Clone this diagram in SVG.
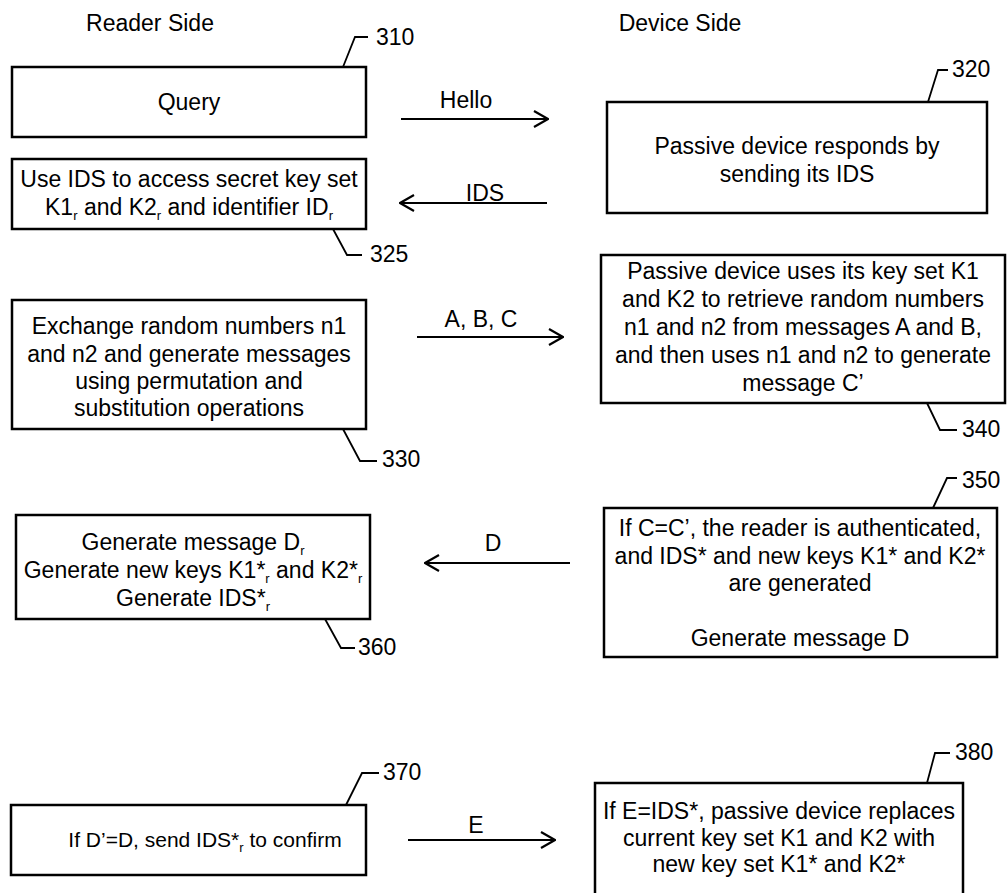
<svg xmlns="http://www.w3.org/2000/svg" width="1008" height="893" viewBox="0 0 1008 893">
<style>
text{font-family:"Liberation Sans",Arial,sans-serif;font-size:23px;fill:#000}
.c{text-anchor:middle}
.box{fill:#fff;stroke:#000;stroke-width:2.5}
.ld{fill:none;stroke:#000;stroke-width:1.8}
.ar{fill:none;stroke:#000;stroke-width:2.2}
.sb{font-size:13px}
.sm{font-size:21px}
</style>
<defs>
<marker id="arr" viewBox="0 0 16 18" refX="15" refY="9" markerWidth="16" markerHeight="18" orient="auto" markerUnits="userSpaceOnUse">
<path d="M1,1 L15,9 L1,17" fill="none" stroke="#000" stroke-width="2.2"/>
</marker>
</defs>
<rect width="1008" height="893" fill="#fff"/>
<text class="c" x="150" y="31">Reader Side</text>
<text class="c" x="680" y="31">Device Side</text>

<g id="n310">
<rect class="box" x="12" y="67" width="354" height="70"/>
<text class="c" x="189" y="110">Query</text>
<path class="ld" d="M343,67 L355,37 L368,37"/>
<text x="376" y="45">310</text>
</g>

<g id="n320">
<rect class="box" x="607" y="102" width="380" height="111"/>
<text class="c" x="797" y="154">Passive device responds by</text>
<text class="c" x="797" y="182">sending its IDS</text>
<path class="ld" d="M928,102 L938,70 L948,70"/>
<text x="952" y="77">320</text>
</g>

<g id="n325">
<rect class="box" x="12" y="159" width="354" height="70"/>
<text class="c" x="189" y="187">Use IDS to access secret key set</text>
<text class="c" x="189" y="215">K1<tspan class="sb" dy="5">r</tspan><tspan dy="-5"> and K2</tspan><tspan class="sb" dy="5">r</tspan><tspan dy="-5"> and identifier ID</tspan><tspan class="sb" dy="5">r</tspan></text>
<path class="ld" d="M333,229 L347,255 L362,255"/>
<text x="370" y="262">325</text>
</g>

<g id="n330">
<rect class="box" x="12" y="300" width="354" height="129"/>
<text class="c" x="189" y="334">Exchange random numbers n1</text>
<text class="c" x="189" y="362">and n2 and generate messages</text>
<text class="c" x="189" y="389">using permutation and</text>
<text class="c" x="189" y="416">substitution operations</text>
<path class="ld" d="M343,429 L360,461 L377,461"/>
<text x="382" y="467">330</text>
</g>

<g id="n340">
<rect class="box" x="601" y="255" width="404" height="148"/>
<text class="c" x="803" y="279">Passive device uses its key set K1</text>
<text class="c" x="803" y="307">and K2 to retrieve random numbers</text>
<text class="c" x="803" y="335">n1 and n2 from messages A and B,</text>
<text class="c" x="803" y="363">and then uses n1 and n2 to generate</text>
<text class="c" x="803" y="391">message C’</text>
<path class="ld" d="M927,403 L940,430 L957,430"/>
<text x="962" y="437">340</text>
</g>

<g id="n350">
<rect class="box" x="604" y="508" width="393" height="149"/>
<text class="c" x="800" y="536">If C=C’, the reader is authenticated,</text>
<text class="c" x="800" y="564">and IDS* and new keys K1* and K2*</text>
<text class="c" x="800" y="591">are generated</text>
<text class="c" x="800" y="646">Generate message D</text>
<path class="ld" d="M933,508 L947,478 L957,478"/>
<text x="962" y="488">350</text>
</g>

<g id="n360">
<rect class="box" x="16" y="515" width="354" height="104"/>
<text class="c" x="193" y="550">Generate message D<tspan class="sb" dy="5">r</tspan></text>
<text class="c" x="193" y="578">Generate new keys K1*<tspan class="sb" dy="5">r</tspan><tspan dy="-5"> and K2*</tspan><tspan class="sb" dy="5">r</tspan></text>
<text class="c" x="193" y="606">Generate IDS*<tspan class="sb" dy="5">r</tspan></text>
<path class="ld" d="M325,619 L341,648 L355,648"/>
<text x="358" y="655">360</text>
</g>

<g id="n370">
<rect class="box" x="11" y="805" width="355" height="70"/>
<text class="c sm" x="205" y="847">If D’=D, send IDS*<tspan class="sb" dy="5">r</tspan><tspan dy="-5"> to confirm</tspan></text>
<path class="ld" d="M346,805 L362,773 L379,773"/>
<text x="383" y="780">370</text>
</g>

<g id="n380">
<rect class="box" x="595" y="783" width="368" height="115"/>
<text class="c" x="779" y="819">If E=IDS*, passive device replaces</text>
<text class="c" x="779" y="846">current key set K1 and K2 with</text>
<text class="c" x="779" y="872">new key set K1* and K2*</text>
<path class="ld" d="M927,783 L935,753 L950,753"/>
<text x="955" y="760">380</text>
</g>

<g id="connectors">
<line class="ar" x1="401" y1="119" x2="548" y2="119" marker-end="url(#arr)"/>
<text class="c" x="466" y="108">Hello</text>
<line class="ar" x1="547" y1="203" x2="400" y2="203" marker-end="url(#arr)"/>
<text class="c" x="485" y="201">IDS</text>
<line class="ar" x1="417" y1="337" x2="563" y2="337" marker-end="url(#arr)"/>
<text class="c" x="481" y="327">A, B, C</text>
<line class="ar" x1="570" y1="563" x2="425" y2="563" marker-end="url(#arr)"/>
<text class="c" x="493" y="551">D</text>
<line class="ar" x1="408" y1="840" x2="555" y2="840" marker-end="url(#arr)"/>
<text class="c" x="476" y="833">E</text>
</g>
</svg>
